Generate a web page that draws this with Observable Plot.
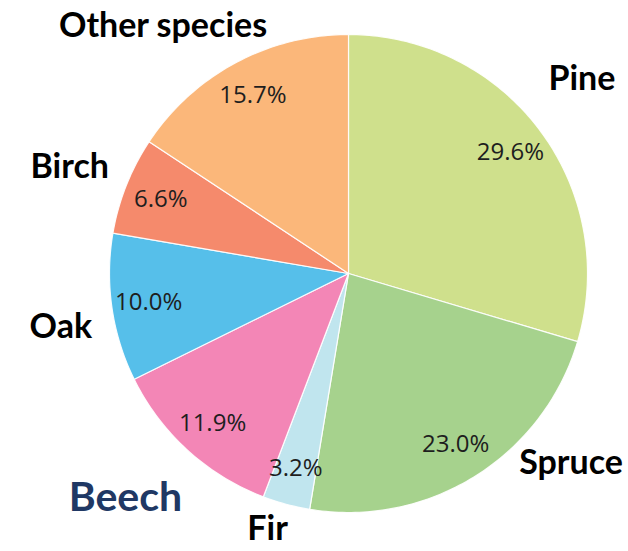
<!DOCTYPE html>
<html>
<head>
<meta charset="utf-8">
<script src="https://cdn.jsdelivr.net/npm/d3@7"></script>
<script src="https://cdn.jsdelivr.net/npm/@observablehq/plot@0.6"></script>
<style>
  html, body { margin: 0; padding: 0; background: #fff; }
  #chart svg { display: block; }
</style>
</head>
<body>
<div id="chart"></div>
<script>
// ---- data (clockwise from 12 o'clock) ----
const species = ["Pine", "Spruce", "Fir", "Beech", "Oak", "Birch", "Other species"];
const shares  = [29.6, 23.0, 3.2, 11.9, 10.0, 6.6, 15.7];
const colors  = ["#cfe08c", "#a6d28d", "#c0e5ee", "#f386b6", "#56bfea", "#f58a6c", "#fbb77a"];

// ---- label layout (pixel nudges from slice mid-angle anchor) ----
const nudge = {
  "Pine": [-6, -16], "Spruce": [64, -64], "Fir": [-3, -33], "Beech": [-22, 3],
  "Oak": [8, 11], "Birch": [-1, 4], "Other species": [-44, 16]
};

const W = 628, H = 551, R = 239, CX = 348, CY = 273;
const total = d3.sum(shares);
let acc = 0;
const slices = species.map((name, i) => {
  const a0 = acc / total * 2 * Math.PI;
  acc += shares[i];
  const a1 = acc / total * 2 * Math.PI;
  return {name, value: shares[i], a0, a1, mid: (a0 + a1) / 2};
});

const pts = [];
for (const s of slices) {
  pts.push({name: s.name, x: 0, y: 0});
  const n = Math.max(4, Math.ceil((s.a1 - s.a0) / (Math.PI / 180)));
  for (let k = 0; k <= n; k++) {
    const a = s.a0 + (s.a1 - s.a0) * k / n;
    pts.push({name: s.name, x: Math.sin(a), y: Math.cos(a)});
  }
}

const pctLabels = slices.map(s => ({
  text: s.value.toFixed(1) + "%",
  x: 0.845 * Math.sin(s.mid), y: 0.845 * Math.cos(s.mid)
}));
const catLabels = slices.map(s => ({
  name: s.name,
  x: 1.25 * Math.sin(s.mid), y: 1.25 * Math.cos(s.mid),
  dx: nudge[s.name][0], dy: nudge[s.name][1]
}));
const normal = catLabels.filter(d => d.name !== "Beech");
const beech = catLabels.filter(d => d.name === "Beech");

const chart = Plot.plot({
  width: W, height: H,
  margin: 0,
  x: {domain: [-CX / R, (W - CX) / R], axis: null},
  y: {domain: [-(H - CY) / R, CY / R], axis: null},
  color: {domain: species, range: colors},
  marks: [
    Plot.line(pts, {x: "x", y: "y", z: "name", fill: "name", stroke: "#ffffff",
      strokeWidth: 1.2, strokeOpacity: 0.9, curve: "linear-closed"}),
    Plot.text(pctLabels, {x: "x", y: "y", text: "text", fill: "#1e1e1e",
      fontSize: 24, fontWeight: 500, fontFamily: "Open Sans", letterSpacing: "-1.3px",
      textAnchor: "middle", lineAnchor: "middle"}),
    ...normal.map(d => Plot.text([d], {x: "x", y: "y", text: "name", dx: d.dx, dy: d.dy,
      fill: "#000", fontSize: 34, fontWeight: "bold", fontFamily: "Lato",
      textAnchor: "middle", lineAnchor: "middle"})),
    ...beech.map(d => Plot.text([d], {x: "x", y: "y", text: "name", dx: d.dx, dy: d.dy,
      fill: "#203864", fontSize: 41, fontWeight: "bold", fontFamily: "Lato",
      textAnchor: "middle", lineAnchor: "middle"}))
  ]
});
document.getElementById("chart").append(chart);
</script>
</body>
</html>
